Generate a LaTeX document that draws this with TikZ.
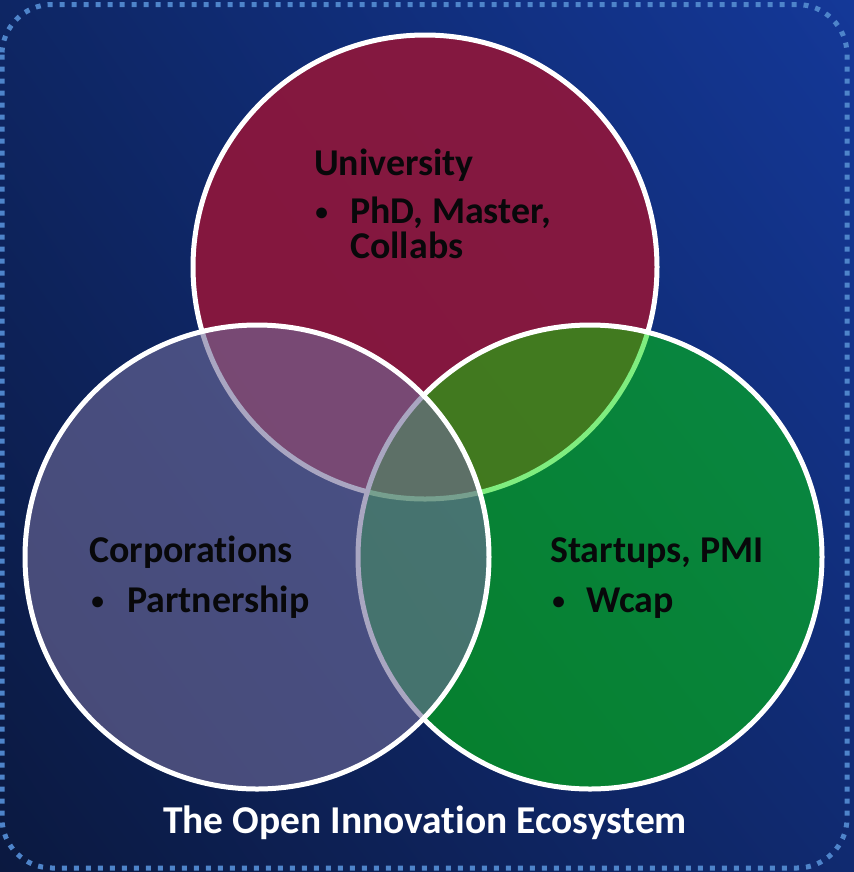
\documentclass[tikz,border=0pt]{standalone}
\usepackage{fontspec}
\setmainfont[Ligatures=NoCommon]{Carlito}
\usetikzlibrary{positioning,shadings}

\definecolor{bgtl}{RGB}{14,38,100}
\definecolor{bgtr}{RGB}{20,56,152}
\definecolor{bgbl}{RGB}{11,25,64}
\definecolor{bgbr}{RGB}{16,42,112}
\definecolor{frame}{RGB}{78,132,202}
\definecolor{unired}{RGB}{145,22,58}
\definecolor{startgreen}{RGB}{0,220,0}
\definecolor{corpblue}{RGB}{112,107,152}
\definecolor{ink}{RGB}{8,8,10}

\tikzset{
  venn/.style={circle,draw=white,line width=3.75pt,minimum size=348pt,inner sep=0pt},
  head/.style={anchor=base west,inner sep=0pt,text=ink,
    font=\fontsize{28.4}{26.25}\selectfont\bfseries},
  dot/.style={head,font=\fontsize{19}{20}\selectfont\bfseries},
}

\begin{document}
\begin{tikzpicture}[x=0.75pt,y=-0.75pt]
            \useasboundingbox (0,0) rectangle (854,872);
            \shade[upper left=bgtl,upper right=bgtr,lower left=bgbl,lower right=bgbr]
                (0,0) rectangle (854,872);
            \draw[frame,line width=3.75pt,dash pattern=on 3.75pt off 5.25pt,
                rounded corners=37.5pt] (2,4.5) rectangle (847,868);

            % the three circles
            \node[venn,fill=unired,fill opacity=0.9] (uni) at (425,267) {};
            \node[venn,fill=startgreen,fill opacity=0.5] (start) at (590,557) {};
            \node[venn,fill=corpblue,fill opacity=0.6] (corp) at (257,557) {};

            \begin{scope}[every node/.style={head}]
                \node (unititle) at (314,175) {University};
                \node[dot] (unidot) at (315,220) {•};
                \node (phd) at (350,223) {PhD, Master,};
                \node (collabs) at (350,258) {Collabs};

                \node (corptitle) at (89,562) {Corporations};
                \node[dot] (corpdot) at (91,609) {•};
                \node (partner) at (127,612) {Partnership};

                \node (starttitle) at (550,562) {Startups, PMI};
                \node[dot] (startdot) at (552,609) {•};
                \node (wcap) at (586,612) {Wcap};
            \end{scope}

            \node[text=white,inner sep=0pt,anchor=base,
                font=\fontsize{29.6}{26.25}\selectfont\bfseries] (eco) at (425,833)
                {The Open Innovation Ecosystem};
            \end{tikzpicture}
\end{document}
